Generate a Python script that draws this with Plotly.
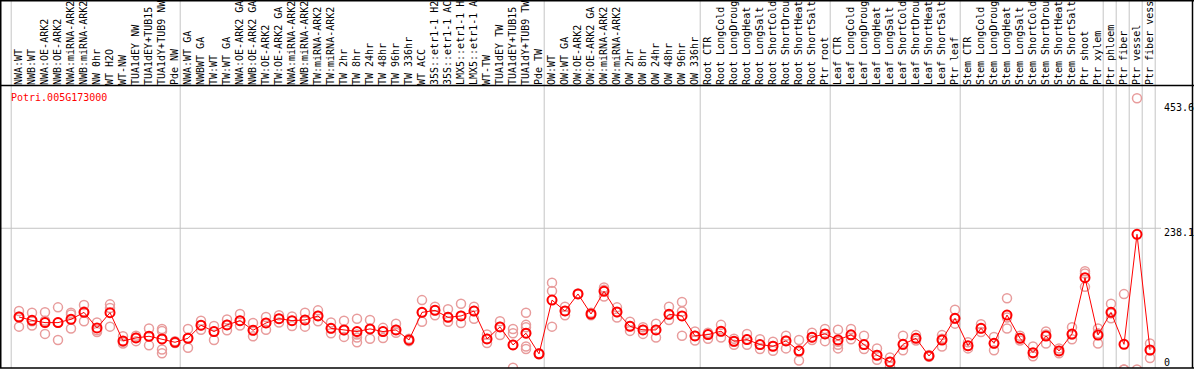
import plotly.graph_objects as go

gene_id = "Potri.005G173000"

sample_labels = [
    "NWA:WT", "NWB:WT", "NWA:OE-ARK2", "NWB:OE-ARK2", "NWA:miRNA-ARK2", "NWB:miRNA-ARK2",
    "NW 0hr", "WT H2O", "WT-NW", "TUA1dEY NW", "TUA1dEY+TUB15 NW", "TUA1dY+TUB9 NW", "Pde NW",
    "NWA:WT GA", "NWBWT GA", "TW:WT", "TW:WT GA", "NWA:OE-ARK2 GA", "NWB:OE-ARK2 GA",
    "TW:OE-ARK2", "TW:OE-ARK2 GA", "NWA:miRNA-ARK2 GA", "NWB:miRNA-ARK2 GA", "TW:miRNA-ARK2",
    "TW:miRNA-ARK2", "TW 2hr", "TW 8hr", "TW 24hr", "TW 48hr", "TW 96hr", "TW 336hr", "WT ACC",
    "35S::etr1-1 H2O", "35S::etr1-1 ACC", "LMX5::etr1-1 H2O", "LMX5::etr1-1 ACC", "WT-TW",
    "TUA1dEY TW", "TUA1dEY+TUB15 TW", "TUA1dY+TUB9 TW", "Pde TW",
    "OW:WT", "OW:WT GA", "OW:OE-ARK2", "OW:OE-ARK2 GA", "OW:miRNA-ARK2", "OW:miRNA-ARK2",
    "OW 2hr", "OW 8hr", "OW 24hr", "OW 48hr", "OW 96hr", "OW 336hr",
    "Root CTR", "Root LongCold", "Root LongDrought", "Root LongHeat", "Root LongSalt",
    "Root ShortCold", "Root ShortDrought", "Root ShortHeat", "Root ShortSalt", "Ptr root",
    "Leaf CTR", "Leaf LongCold", "Leaf LongDrought", "Leaf LongHeat", "Leaf LongSalt",
    "Leaf ShortCold", "Leaf ShortDrought", "Leaf ShortHeat", "Leaf ShortSalt", "Ptr leaf",
    "Stem CTR", "Stem LongCold", "Stem LongDrought", "Stem LongHeat", "Stem LongSalt",
    "Stem ShortCold", "Stem ShortDrought", "Stem ShortHeat", "Stem ShortSalt", "Ptr shoot",
    "Ptr xylem", "Ptr phloem", "Ptr fiber", "Ptr vessel", "Ptr fiber vessel",
]

mean_values = [
    91, 85.5, 81.7, 81.7, 87.2, 98.7, 72.9, 98.2, 51.4, 56.3, 59.1, 54.7, 49.1,
    55.8, 77.4, 66.9, 77.9, 85, 69, 81.1, 88.3, 85, 86.1, 92.7, 72.3, 69.6, 66.9, 71.3,
    66.9, 69.6, 53, 98.7, 102, 90.5, 92.7, 100.9, 54.7, 74.5, 44.7, 64.1, 29.9,
    119, 101, 129.2, 96, 133.6, 99.4, 75.6, 69.6, 69.6, 95.5, 92.7, 59.7,
    61.9, 67.4, 50.8, 53.6, 45.3, 42.5, 51.4, 35, 57.5, 63,
    53, 61.4, 45.3, 27.6, 16.6, 45.7, 55.7, 26.4, 52.9, 88.8,
    43.5, 72.3, 47.4, 94.3, 55.7, 31.9, 59.5, 34.7, 62.8, 156.2, 61.1,
    98.7, 45.7, 228.1, 36.3,
]

replicate_values = [
    [101, 92, 75], [98, 84, 77], [99, 85, 63], [107, 82, 53], [98, 95, 72], [111, 100, 84],
    [82, 69, 66], [112, 106, 75], [59, 50, 47], [60, 57, 51], [72, 59, 44], [71, 68, 54, 37, 31],
    [51, 48],
    [71, 56, 40], [85, 77, 70], [76, 67, 53], [87, 78, 69], [96, 85, 77], [81, 69, 59],
    [91, 81, 70], [94, 88, 82], [92, 85, 76], [98, 86, 75], [102, 93, 84], [82, 72, 64],
    [85, 69, 58], [88, 62, 57, 49], [86, 71, 55], [73, 67, 56], [80, 70, 65], [55, 53, 51],
    [119, 98, 83], [108, 102, 94], [104, 91, 83], [113, 93, 81], [108, 101, 88], [62, 55, 48],
    [84, 75, 61], [71, 64, 45, 7], [98, 78, 74, 64, 42, 38], [31, 29],
    [148, 134, 75], [108, 101, 94], [130, 129], [98, 94], [140, 136, 125], [107, 99, 90],
    [83, 76, 68], [74, 70, 63], [80, 70, 57], [108, 95, 86], [116, 100, 60], [67, 60, 52],
    [65, 62, 55], [78, 67, 57], [55, 50, 45], [63, 54, 45], [54, 45, 38], [50, 43, 35],
    [60, 52, 39], [53, 33, 19], [65, 57, 53], [71, 63, 51],
    [70, 50, 45, 39], [71, 61, 54], [60, 45, 38], [39, 28, 20], [24, 17, 9], [60, 45, 36],
    [61, 56, 52], [28, 26, 25], [61, 55, 42], [103, 88, 80],
    [49, 43, 39], [79, 72, 66], [58, 47, 36], [122, 90, 72], [60, 56, 52], [42, 31, 26],
    [67, 62, 47], [39, 35, 31], [74, 62, 54], [167, 163, 141], [72, 64, 47],
    [113, 97, 89], [129, 4, 4], [453.6, 4], [47, 36, 23],
]

group_starts = [0, 13, 41, 53, 63, 73, 84, 85, 86, 87, 88]
axis_labels = ["453.6", "238.1", "0"]
axis_values = [453.6, 238.1, 0]

W, H = 1194, 370
TOP, BOTTOM = 86, 368
plot_h = BOTTOM - TOP

def py(p):
    return (BOTTOM - p) / plot_h

def px(p):
    return p / W

x_idx = list(range(len(sample_labels)))
rep_x, rep_y = [], []
for i, reps in enumerate(replicate_values):
    for v in reps:
        rep_x.append(i)
        rep_y.append(v)

fig = go.Figure()
fig.add_trace(go.Scatter(
    x=rep_x, y=rep_y, mode="markers",
    marker=dict(symbol="circle-open", size=9, color="#E89C9C", line=dict(width=1.5, color="#E89C9C")),
    hoverinfo="skip", showlegend=False,
))
fig.add_trace(go.Scatter(
    x=x_idx, y=mean_values, mode="lines+markers",
    line=dict(color="#FF0000", width=1),
    marker=dict(symbol="circle-open", size=9, color="#FF0000", line=dict(width=2, color="#FF0000")),
    showlegend=False,
))

shapes = []
for g in group_starts:
    shapes.append(dict(type="line", xref="x", yref="paper", x0=g - 0.6, x1=g - 0.6,
                       y0=py(BOTTOM), y1=py(0), line=dict(color="#C4C4C4", width=1), layer="below"))
shapes.append(dict(type="line", xref="paper", yref="y", x0=0, x1=px(1161), y0=238.1, y1=238.1,
                   line=dict(color="#C4C4C4", width=1), layer="below"))
blk = dict(color="#000000", width=1.5)
shapes.append(dict(type="line", xref="paper", yref="paper", x0=px(0.75), x1=px(0.75), y0=py(BOTTOM), y1=py(0), line=blk))
shapes.append(dict(type="line", xref="paper", yref="paper", x0=px(1192.5), x1=px(1192.5), y0=py(BOTTOM), y1=py(0), line=blk))
shapes.append(dict(type="line", xref="paper", yref="paper", x0=0, x1=1, y0=py(0.75), y1=py(0.75), line=blk))
shapes.append(dict(type="line", xref="paper", yref="paper", x0=0, x1=1, y0=py(TOP - 0.5), y1=py(TOP - 0.5), line=blk))
shapes.append(dict(type="line", xref="paper", yref="paper", x0=0, x1=1, y0=py(BOTTOM), y1=py(BOTTOM), line=blk))

mono = "DejaVu Sans Mono"
annotations = [
    dict(text=gene_id, xref="paper", yref="paper", x=px(9), y=py(97), xanchor="left", yanchor="middle",
         showarrow=False, font=dict(family=mono, size=10, color="#FF0000")),
]
shifts = [-9, -4, None]
for lab, val, sh in zip(axis_labels, axis_values, shifts):
    if sh is None:
        annotations.append(dict(text=lab, xref="paper", yref="paper", x=px(1162), y=0, yshift=6,
                                xanchor="left", yanchor="middle", showarrow=False,
                                font=dict(family=mono, size=10, color="#000000")))
    else:
        annotations.append(dict(text=lab, xref="paper", yref="y", x=px(1162), y=val, yshift=sh,
                                xanchor="left", yanchor="middle", showarrow=False,
                                font=dict(family=mono, size=10, color="#000000")))

x0 = -19 / 13
fig.update_layout(
    width=W, height=H,
    margin=dict(l=0, r=0, t=TOP, b=H - BOTTOM, autoexpand=False),
    paper_bgcolor="white", plot_bgcolor="white",
    xaxis=dict(range=[x0, x0 + W / 13], side="top", tickmode="array", tickvals=x_idx,
               ticktext=sample_labels, tickangle=-90, ticks="", showgrid=False, zeroline=False,
               showline=False, tickfont=dict(family=mono, size=10, color="#000000"), automargin=False),
    yaxis=dict(range=[(371.9 - BOTTOM) / 0.6032, (371.9 - TOP) / 0.6032], showticklabels=False,
               showgrid=False, zeroline=False, showline=False, automargin=False),
    shapes=shapes, annotations=annotations,
)

fig.write_html(
    "out.html",
    config={"displayModeBar": False},
    post_script="document.body.style.margin='0';document.body.style.overflow='hidden';",
)
